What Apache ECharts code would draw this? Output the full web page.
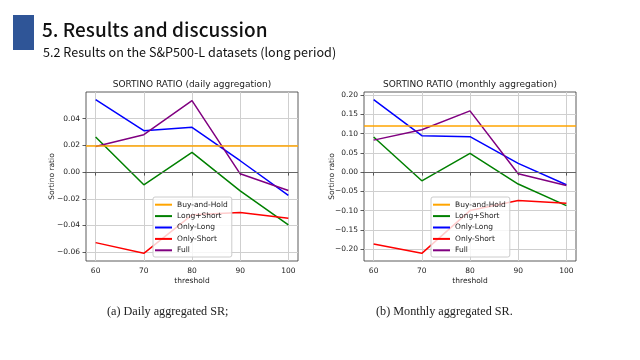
<!DOCTYPE html>
<html><head><meta charset="utf-8">
<script src="https://cdn.jsdelivr.net/npm/echarts@6/dist/echarts.min.js"></script>
<style>html,body{margin:0;padding:0;background:#fff}#c{width:640px;height:360px}</style>
</head><body><div id="c"></div>
<script>
const thresholds = [60, 70, 80, 90, 100];
const seriesNames = ['Buy-and-Hold', 'Long+Short', 'Only-Long', 'Only-Short', 'Full'];

const buyHoldDaily = 0.0197;
const longShortDaily = [0.0263, -0.0095, 0.0147, -0.0140, -0.0395];
const onlyLongDaily = [0.0542, 0.0310, 0.0335, 0.0085, -0.0175];
const onlyShortDaily = [-0.0528, -0.0608, -0.0320, -0.0303, -0.0345];
const fullDaily = [0.0192, 0.0280, 0.0535, -0.0013, -0.0138];

const buyHoldMonthly = 0.123;
const longShortMonthly = [0.091, -0.0227, 0.0485, -0.031, -0.087];
const onlyLongMonthly = [0.188, 0.0945, 0.092, 0.0225, -0.033];
const onlyShortMonthly = [-0.187, -0.211, -0.100, -0.074, -0.081];
const fullMonthly = [0.083, 0.110, 0.159, -0.0045, -0.035];

const yTicksDaily = [-0.06, -0.04, -0.02, 0.00, 0.02, 0.04];
const yTicksMonthly = [-0.20, -0.15, -0.10, -0.05, 0.00, 0.05, 0.10, 0.15, 0.20];

const titleDaily = 'SORTINO RATIO (daily aggregation)';
const titleMonthly = 'SORTINO RATIO (monthly aggregation)';
const captionA = '(a) Daily aggregated SR;';
const captionB = '(b) Monthly aggregated SR.';
const heading = '5. Results and discussion';
const subheading = '5.2 Results on the S&P500-L datasets (long period)';

const colors = ['#FFA500', '#008000', '#0000FF', '#FF0000', '#800080'];
const FONT = 'DejaVu Sans';
const TXT = '#222';

function pad(arr) {
  const mn = Math.min(...arr), mx = Math.max(...arr), r = mx - mn;
  return [mn - 0.05 * r, mx + 0.05 * r];
}
const xExt = [thresholds[0] - 0.05 * (thresholds[4] - thresholds[0]), thresholds[4] + 0.05 * (thresholds[4] - thresholds[0])];
const yExtD = pad([buyHoldDaily, ...longShortDaily, ...onlyLongDaily, ...onlyShortDaily, ...fullDaily]);
const yExtM = pad([buyHoldMonthly, ...longShortMonthly, ...onlyLongMonthly, ...onlyShortMonthly, ...fullMonthly]);

const fmtY = v => (v < 0 ? '\u2212' : '') + Math.abs(v).toFixed(2);

function xAxis(gi) {
  return {
    type: 'value', gridIndex: gi, min: xExt[0], max: xExt[1], interval: 10, startValue: 60,
    name: 'threshold', nameLocation: 'middle', nameGap: 16,
    nameTextStyle: { fontFamily: FONT, fontSize: 7.5, color: TXT },
    axisLine: { show: false },
    axisTick: { show: true, length: 3.5, lineStyle: { color: '#333', width: 0.8 }, customValues: thresholds },
    axisLabel: { fontFamily: FONT, fontSize: 7.5, color: TXT, margin: 6, customValues: thresholds },
    splitLine: { show: true, lineStyle: { color: '#cfcfcf', width: 1 } }
  };
}
function yAxis(gi, ext, ticks, interval) {
  return {
    type: 'value', gridIndex: gi, min: ext[0], max: ext[1], interval: interval, startValue: ticks[0],
    name: 'Sortino ratio', nameLocation: 'middle', nameGap: gi === 0 ? 30 : 28, nameMoveOverlap: false,
    nameTextStyle: { fontFamily: FONT, fontSize: 7.5, color: TXT },
    axisLine: { show: false },
    axisTick: { show: true, length: 3.5, lineStyle: { color: '#333', width: 0.8 }, customValues: ticks },
    axisLabel: { fontFamily: FONT, fontSize: 7.5, color: TXT, margin: 6, customValues: ticks, formatter: fmtY },
    splitLine: { show: true, lineStyle: { color: '#cfcfcf', width: 1 } }
  };
}

function makeSeries(gi, bh, lists) {
  const out = [];
  out.push({
    name: seriesNames[0], type: 'line', xAxisIndex: gi, yAxisIndex: gi, data: [],
    color: colors[0], itemStyle: { color: colors[0] },
    markLine: { silent: true, symbol: 'none', label: { show: false }, animation: false,
      lineStyle: { color: colors[0], width: 1.5, type: 'solid' }, data: [{ yAxis: bh }] }
  });
  out.push({
    name: '_zero' + gi, type: 'line', xAxisIndex: gi, yAxisIndex: gi, data: [],
    markLine: { silent: true, symbol: 'none', label: { show: false }, animation: false,
      lineStyle: { color: '#666', width: 1, type: 'solid' }, data: [{ yAxis: 0 }] }
  });
  lists.forEach((vals, i) => {
    out.push({
      name: seriesNames[i + 1], type: 'line', xAxisIndex: gi, yAxisIndex: gi,
      data: thresholds.map((t, k) => [t, vals[k]]),
      showSymbol: false, symbol: 'none', animation: false,
      color: colors[i + 1], itemStyle: { color: colors[i + 1] },
      lineStyle: { color: colors[i + 1], width: 1.5 }
    });
  });
  return out;
}

function legend(left) {
  return {
    orient: 'vertical', left: left, top: 197, data: seriesNames,
    icon: 'rect', itemWidth: 17, itemHeight: 2, itemGap: 0,
    padding: [2, 4, 1, 2],
    backgroundColor: 'rgba(255,255,255,0.8)', borderColor: '#cccccc', borderWidth: 1, borderRadius: 2,
    textStyle: { fontFamily: FONT, fontSize: 7.5, color: TXT, lineHeight: 11.4 },
    selectedMode: false
  };
}

const chart = echarts.init(document.getElementById('c'), null, { renderer: 'canvas' });
chart.setOption({
  backgroundColor: '#fff',
  animation: false,
  grid: [
    { left: 86, top: 92, width: 212, height: 169, show: true, borderColor: '#333', borderWidth: 0.8, backgroundColor: 'transparent' },
    { left: 364, top: 92, width: 212, height: 169, show: true, borderColor: '#333', borderWidth: 0.8, backgroundColor: 'transparent' }
  ],
  xAxis: [xAxis(0), xAxis(1)],
  yAxis: [yAxis(0, yExtD, yTicksDaily, 0.02), yAxis(1, yExtM, yTicksMonthly, 0.05)],
  legend: [legend(153), legend(431)],
  series: [
    ...makeSeries(0, buyHoldDaily, [longShortDaily, onlyLongDaily, onlyShortDaily, fullDaily]),
    ...makeSeries(1, buyHoldMonthly, [longShortMonthly, onlyLongMonthly, onlyShortMonthly, fullMonthly])
  ],
  graphic: [
    { type: 'text', x: 192, y: 85, style: { text: titleDaily, textAlign: 'center', textVerticalAlign: 'middle', font: '9px "DejaVu Sans"', fill: TXT } },
    { type: 'text', x: 470, y: 85, style: { text: titleMonthly, textAlign: 'center', textVerticalAlign: 'middle', font: '9px "DejaVu Sans"', fill: TXT } },
    { type: 'rect', left: 13, top: 15, shape: { width: 21, height: 35 }, style: { fill: '#2F5597' } },
    { type: 'text', x: 42, y: 20, style: { text: heading, font: '500 19px "Noto Sans CJK KR"', fill: '#111' } },
    { type: 'text', x: 43, y: 46, style: { text: subheading, font: '12.6px "Noto Sans CJK KR"', fill: '#111' } },
    { type: 'text', left: 107, top: 305.5, style: { text: captionA, font: '12.2px "Liberation Serif"', fill: '#222' } },
    { type: 'text', left: 376, top: 305.5, style: { text: captionB, font: '12.2px "Liberation Serif"', fill: '#222' } }
  ]
});
</script></body></html>
